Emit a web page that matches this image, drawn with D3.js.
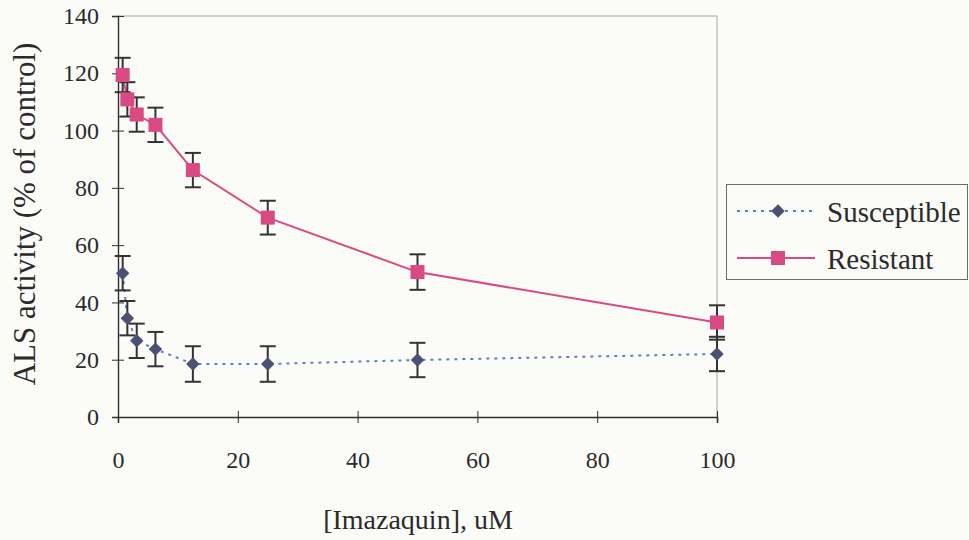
<!DOCTYPE html>
<html>
<head>
<meta charset="utf-8">
<script src="https://cdn.jsdelivr.net/npm/d3@7"></script>
<style>
  body { margin: 0; background: #fbfbf8; }
  svg { display: block; }
  text { font-family: "Liberation Serif", "Times New Roman", Times, serif; fill: #2b2b2b; }
</style>
</head>
<body>
<div id="chart"></div>
<script>

// Concentrations (uM)
const conc = [0.78, 1.56, 3.125, 6.25, 12.5, 25, 50, 100]

// ALS activity, % of control
const susceptible = [50.2, 34.5, 26.6, 23.7, 18.5, 18.5, 19.9, 22.0]
const susceptible_err = [6.0, 6.0, 6.0, 6.0, 6.2, 6.2, 6.0, 6.0]
const resistant = [119.4, 110.9, 105.6, 102.0, 86.2, 69.6, 50.6, 33.0]
const resistant_err = [6.0, 6.0, 6.0, 6.0, 6.0, 5.9, 6.2, 6.0]

const x_ticks = [0, 20, 40, 60, 80, 100]
const y_ticks = [0, 20, 40, 60, 80, 100, 120, 140]

////////////////////////////////////////////////////////////
// Layout
////////////////////////////////////////////////////////////

const W = 969
const H = 540
const plot = { left: 118, right: 717, top: 16, bottom: 417 }
const serif = '"Liberation Serif", "Times New Roman", Times, serif'

const pink = '#d94a84'
const navy = '#4a5173'
const dot_blue = '#5f7cc4'
const ink = '#2e2e2e'

const svg = d3.select('#chart')
  .append('svg')
  .attr('width', W)
  .attr('height', H)
  .attr('font-family', serif)

const x_scale = d3.scaleLinear()
  .domain([0, 100])
  .range([plot.left, plot.right])

const y_scale = d3.scaleLinear()
  .domain([0, 140])
  .range([plot.bottom, plot.top])

// Frame (top and right borders, thin)
svg.append('line')
  .attr('x1', plot.left).attr('x2', plot.right)
  .attr('y1', plot.top).attr('y2', plot.top)
  .attr('stroke', '#8fa9a6').attr('stroke-width', 1)
svg.append('line')
  .attr('x1', plot.right).attr('x2', plot.right)
  .attr('y1', plot.top).attr('y2', plot.bottom)
  .attr('stroke', '#a8a89c').attr('stroke-width', 1)

////////////////////////////////////////////////////////////
// Axes
////////////////////////////////////////////////////////////

const x_axis = svg.append('g')
  .attr('transform', `translate(0,${plot.bottom})`)
  .call(d3.axisBottom(x_scale).tickValues(x_ticks).tickSize(6).tickPadding(28))
  .attr('font-family', serif)
  .attr('font-size', 24)
x_axis.select('.domain').attr('stroke', ink).attr('stroke-width', 1.6)
x_axis.selectAll('.tick line')
  .attr('y1', -6).attr('y2', 6)
  .attr('stroke', ink)
x_axis.selectAll('.tick text').attr('fill', '#2b2b2b')

const y_axis = svg.append('g')
  .attr('transform', `translate(${plot.left},0)`)
  .call(d3.axisLeft(y_scale).tickValues(y_ticks).tickSize(6).tickPadding(13))
  .attr('font-family', serif)
  .attr('font-size', 24)
y_axis.select('.domain').attr('stroke', ink).attr('stroke-width', 1.4)
y_axis.selectAll('.tick line')
  .attr('x1', -6).attr('x2', 6)
  .attr('stroke', ink)
y_axis.selectAll('.tick text').attr('fill', '#2b2b2b')

// Axis titles
svg.append('text')
  .attr('x', 418)
  .attr('y', 529)
  .attr('text-anchor', 'middle')
  .style('font-size', '28px')
  .text('[Imazaquin], uM')

svg.append('text')
  .attr('transform', 'translate(35,214) rotate(-90)')
  .attr('text-anchor', 'middle')
  .style('font-size', '31px')
  .text('ALS activity (% of control)')

////////////////////////////////////////////////////////////
// Series
////////////////////////////////////////////////////////////

const rows = (vals, errs) => conc.map((c, i) => ({ x: c, y: vals[i], e: errs[i] }))
const sus_rows = rows(susceptible, susceptible_err)
const res_rows = rows(resistant, resistant_err)

const line = d3.line()
  .x(d => x_scale(d.x))
  .y(d => y_scale(d.y))

svg.append('path')
  .datum(sus_rows)
  .attr('d', line)
  .attr('fill', 'none')
  .attr('stroke', dot_blue)
  .attr('stroke-width', 2)
  .attr('stroke-dasharray', '3,5')

svg.append('path')
  .datum(res_rows)
  .attr('d', line)
  .attr('fill', 'none')
  .attr('stroke', pink)
  .attr('stroke-width', 2)

function error_bars(data, cls) {
  let g = svg.append('g').attr('class', cls)
  let cap = 8
  let bars = g.selectAll('g').data(data).enter().append('g')
  bars.append('line')
    .attr('x1', d => x_scale(d.x)).attr('x2', d => x_scale(d.x))
    .attr('y1', d => y_scale(d.y + d.e)).attr('y2', d => y_scale(d.y - d.e))
  bars.append('line')
    .attr('x1', d => x_scale(d.x) - cap).attr('x2', d => x_scale(d.x) + cap)
    .attr('y1', d => y_scale(d.y + d.e)).attr('y2', d => y_scale(d.y + d.e))
  bars.append('line')
    .attr('x1', d => x_scale(d.x) - cap).attr('x2', d => x_scale(d.x) + cap)
    .attr('y1', d => y_scale(d.y - d.e)).attr('y2', d => y_scale(d.y - d.e))
  bars.selectAll('line')
    .attr('stroke', '#333')
    .attr('stroke-width', 2)
}

error_bars(sus_rows, 'sus-err')
error_bars(res_rows, 'res-err')

const diamond = d3.symbol().type(d3.symbolDiamond2).size(115)

svg.append('g')
  .selectAll('path')
  .data(sus_rows)
  .enter()
  .append('path')
    .attr('d', diamond)
    .attr('transform', d => `translate(${x_scale(d.x)},${y_scale(d.y)})`)
    .attr('fill', navy)

svg.append('g')
  .selectAll('rect')
  .data(res_rows)
  .enter()
  .append('rect')
    .attr('x', d => x_scale(d.x) - 7)
    .attr('y', d => y_scale(d.y) - 7)
    .attr('width', 14)
    .attr('height', 14)
    .attr('fill', pink)

////////////////////////////////////////////////////////////
// Legend
////////////////////////////////////////////////////////////

const legend = svg.append('g')

legend.append('rect')
  .attr('x', 726.5).attr('y', 184.5)
  .attr('width', 241).attr('height', 95)
  .attr('fill', 'none')
  .attr('stroke', '#6b6b66')
  .attr('stroke-width', 1)

legend.append('line')
  .attr('x1', 737).attr('x2', 815)
  .attr('y1', 211).attr('y2', 211)
  .attr('stroke', dot_blue).attr('stroke-width', 2)
  .attr('stroke-dasharray', '3,5')
legend.append('path')
  .attr('d', diamond)
  .attr('transform', 'translate(778,211)')
  .attr('fill', navy)
legend.append('text')
  .attr('x', 827).attr('y', 222)
  .style('font-size', '29px')
  .text('Susceptible')

legend.append('line')
  .attr('x1', 737).attr('x2', 815)
  .attr('y1', 258).attr('y2', 258)
  .attr('stroke', pink).attr('stroke-width', 2)
legend.append('rect')
  .attr('x', 771).attr('y', 251)
  .attr('width', 14).attr('height', 14)
  .attr('fill', pink)
legend.append('text')
  .attr('x', 827).attr('y', 269)
  .style('font-size', '29px')
  .text('Resistant')

</script>
</body>
</html>
